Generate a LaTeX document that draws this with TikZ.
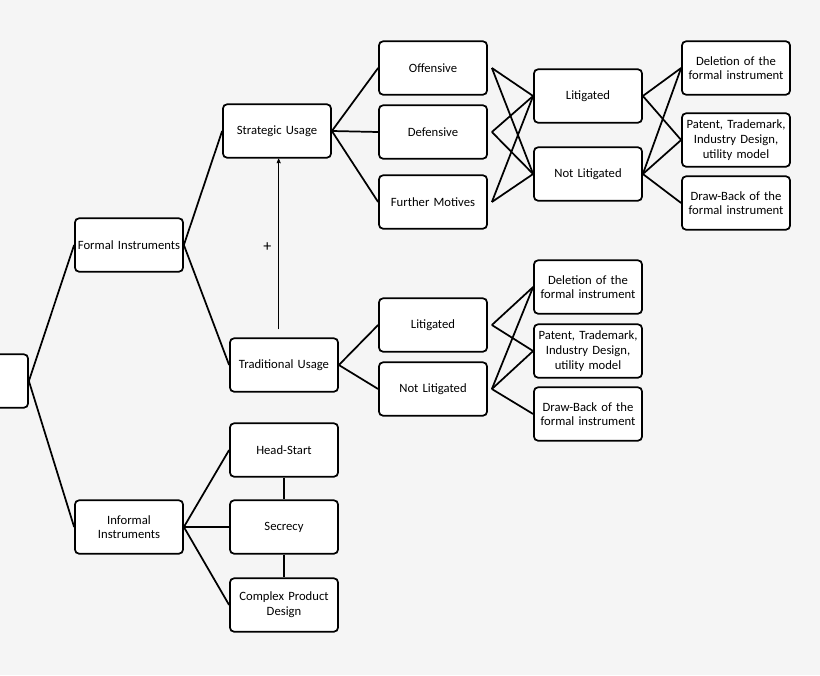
\documentclass[tikz,border=0pt]{standalone}
\usepackage{fontspec}
\setmainfont{Carlito}
\usetikzlibrary{arrows,shapes,positioning}
\definecolor{bgray}{RGB}{245,245,245}
\tikzstyle{box} = [rectangle, rounded corners=3pt, minimum width=81pt, minimum height=40pt, text width=78pt, align=center, draw=black, fill=white, line width=1.3pt, inner sep=1pt, font=\fontsize{9.5}{11}\selectfont]
\tikzstyle{link} = [line width=1.3pt]
\tikzstyle{arrow} = [thin,->,>=stealth']

\begin{document}
\begin{tikzpicture}[x=0.75pt, y=-0.75pt]
\fill[bgray] (0,0) rectangle (820,675);
\clip (0,0) rectangle (820,675);
% Root and first level
\node (root) [box] at (-26,381) {};
\node (formal) [box] at (129,245) {Formal Instruments};
\node (informal) [box] at (129,527) {Informal\\Instruments};

% Formal instruments
\node (strat) [box] at (277,131) {Strategic Usage};
\node (trad) [box] at (284,365) {Traditional Usage};

\node (off) [box] at (433,68) {Offensive};
\node (def) [box] at (433,132) {Defensive};
\node (fur) [box] at (433,202) {Further Motives};

\node (lit) [box] at (588,96) {Litigated};
\node (nlit) [box] at (588,174) {Not Litigated};

\node (del) [box] at (736,68) {Deletion of the\\formal instrument};
\node (pat) [box] at (736,140) {Patent, Trademark,\\Industry Design,\\utility model};
\node (draw) [box] at (736,203) {Draw-Back of the\\formal instrument};

\node (litb) [box] at (433,325) {Litigated};
\node (nlitb) [box] at (433,389) {Not Litigated};

\node (delb) [box] at (588,287) {Deletion of the\\formal instrument};
\node (patb) [box] at (588,351) {Patent, Trademark,\\Industry Design,\\utility model};
\node (drawb) [box] at (588,414) {Draw-Back of the\\formal instrument};

% Informal instruments
\node (head) [box] at (284,450) {Head-Start};
\node (sec) [box] at (284,527) {Secrecy};
\node (cpd) [box] at (284,605) {Complex Product\\Design};

% Connections
\draw[link] (root.east) -- (formal.west);
\draw[link] (root.east) -- (informal.west);
\draw[link] (formal.east) -- (strat.west);
\draw[link] (formal.east) -- (trad.west);
\foreach \m in {off,def,fur}
  \draw[link] (strat.east) -- (\m.west);
\foreach \m in {off,def,fur}
  \foreach \l in {lit,nlit}
    \draw[link] ([xshift=3pt]\m.east) -- (\l.west);
\draw[link] (lit.east) -- (del.west);
\draw[link] (lit.east) -- (pat.west);
\foreach \o in {del,pat,draw}
  \draw[link] (nlit.east) -- (\o.west);
\draw[link] (trad.east) -- (litb.west);
\draw[link] (trad.east) -- (nlitb.west);
\draw[link] ([xshift=3pt]litb.east) -- (delb.west);
\draw[link] ([xshift=3pt]litb.east) -- (patb.west);
\foreach \o in {delb,patb,drawb}
  \draw[link] ([xshift=3pt]nlitb.east) -- (\o.west);
\foreach \i in {head,sec,cpd}
  \draw[link] (informal.east) -- (\i.west);
\draw[link] (head) -- (sec);
\draw[link] (sec) -- (cpd);

% Influence
\coordinate (tradtop) at ([xshift=-4pt, yshift=6pt]trad.north);
\draw[arrow] (tradtop) -- (tradtop |- strat.south) node[pos=0.48, left=2pt] {\large +};
\end{tikzpicture}
\end{document}
